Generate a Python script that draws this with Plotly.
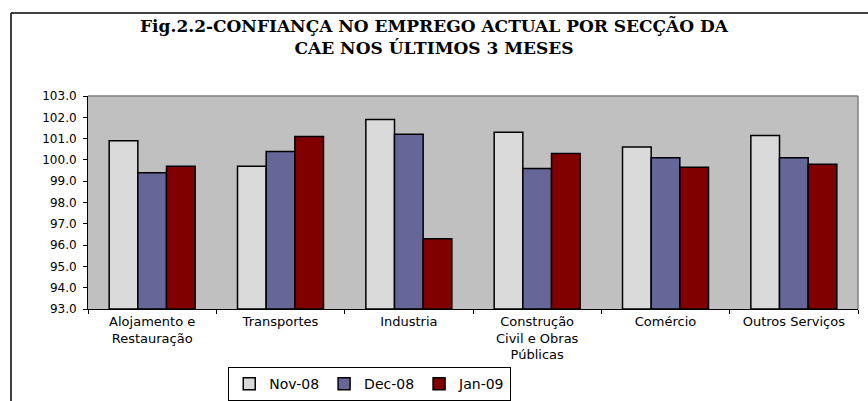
import plotly.graph_objects as go

categories = ["Alojamento e<br>Restauração", "Transportes", "Industria",
              "Construção<br>Civil e Obras<br>Públicas", "Comércio", "Outros Serviços"]
nov_08 = [100.9, 99.7, 101.9, 101.3, 100.6, 101.15]
dec_08 = [99.4, 100.4, 101.2, 99.6, 100.1, 100.1]
jan_09 = [99.7, 101.1, 96.3, 100.3, 99.65, 99.8]
series_names = ["Nov-08", "Dec-08", "Jan-09"]
y_ticks = [93.0, 94.0, 95.0, 96.0, 97.0, 98.0, 99.0, 100.0, 101.0, 102.0, 103.0]
BASE = 93.0

colors = ["#dadada", "#666699", "#800000"]

fig = go.Figure()
for name, vals, col in zip(series_names, [nov_08, dec_08, jan_09], colors):
    fig.add_trace(go.Bar(
        x=categories, y=[v - BASE for v in vals], base=BASE, name=name,
        marker=dict(color=col, line=dict(color="black", width=1.5)),
        hovertext=[f"{v:.1f}" for v in vals],
    ))

fig.update_layout(
    width=868, height=401,
    margin=dict(l=88, r=10, t=96, b=92),
    paper_bgcolor="white",
    plot_bgcolor="#c0c0c0",
    barmode="group",
    bargap=0.33,
    bargroupgap=0,
    title=dict(
        text="<b>Fig.2.2-CONFIANÇA NO EMPREGO ACTUAL POR SECÇÃO DA<br>CAE NOS ÚLTIMOS 3 MESES</b>",
        x=0.5, xanchor="center", y=0.92, yanchor="top",
        font=dict(family="DejaVu Serif", size=17, color="black"),
    ),
    font=dict(family="DejaVu Sans", size=12, color="black"),
    legend=dict(
        orientation="h", xref="container", yref="container",
        x=0.426, xanchor="center", y=0.042, yanchor="middle",
        bordercolor="black", borderwidth=1, bgcolor="white",
        font=dict(family="DejaVu Sans", size=14),
        itemwidth=30,
    ),
    showlegend=True,
)

fig.update_yaxes(
    range=[93, 103], tickvals=y_ticks, tickformat=".1f",
    ticks="outside", ticklen=4, tickcolor="black",
    showline=True, linecolor="black", linewidth=1,
    showgrid=False, zeroline=False, automargin=False,
    tickfont=dict(size=12), ticklabelstandoff=4,
)
fig.update_xaxes(
    ticks="outside", tickson="boundaries", ticklen=4, tickcolor="black",
    showline=True, linecolor="black", linewidth=1,
    showgrid=False, automargin=False,
    tickfont=dict(size=13),
)

# plot-area top/right border (gray)
fig.add_shape(type="line", xref="paper", yref="paper", x0=0, x1=1, y0=1, y1=1,
              line=dict(color="#808080", width=1.5))
fig.add_shape(type="line", xref="paper", yref="paper", x0=1, x1=1, y0=0, y1=1,
              line=dict(color="#808080", width=1.5))
# outer chart frame (top and left)
fig.add_shape(type="line", xref="paper", yref="paper",
              x0=-0.10, x1=1.02, y0=1.39, y1=1.39,
              line=dict(color="black", width=1.5))
fig.add_shape(type="line", xref="paper", yref="paper",
              x0=-0.10, x1=-0.10, y0=1.39, y1=-0.6,
              line=dict(color="black", width=1.5))

fig.write_html("out.html")
